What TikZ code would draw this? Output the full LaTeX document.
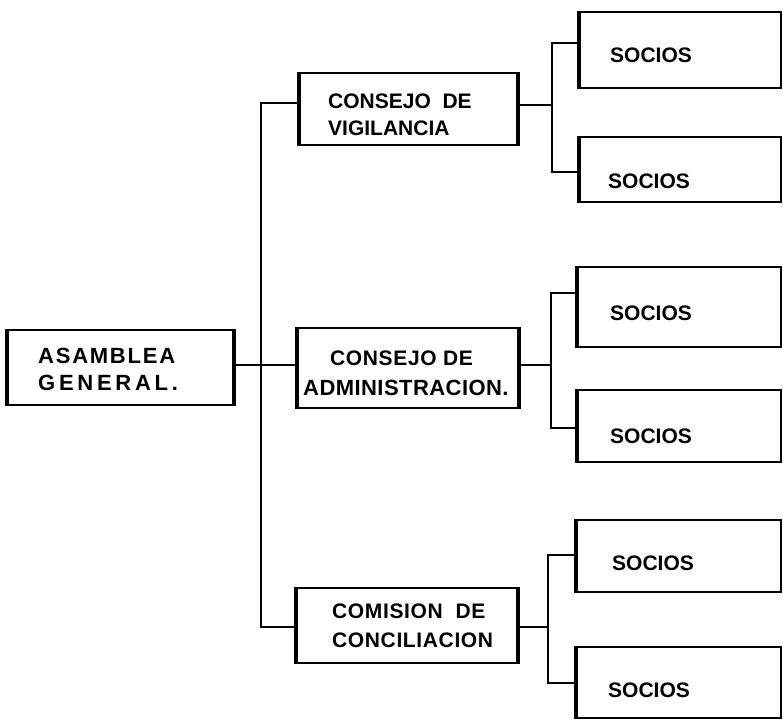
\documentclass[tikz,border=0pt]{standalone}
\usepackage{fontspec}
\setmainfont{Liberation Sans}
\begin{document}
\begin{tikzpicture}[x=1pt,y=-1pt,
  box/.style={draw, line width=1.9pt, rectangle, inner sep=0pt},
  side/.style={line width=3.2pt},
  conn/.style={line width=1.6pt},
  lab/.style={font=\bfseries\fontsize{21}{21}\selectfont, anchor=base west, inner sep=0pt},
  labsp/.style={font=\bfseries\fontsize{21}{21}\selectfont\addfontfeatures{LetterSpace=#1}, anchor=base west, inner sep=0pt},
  labbig/.style={font=\bfseries\fontsize{22}{22}\selectfont\addfontfeatures{LetterSpace=#1}, anchor=base west, inner sep=0pt},
]
\useasboundingbox (0,0) rectangle (783,721);
\fill[white] (0,0) rectangle (783,721);

% boxes
\node[box, minimum width=225pt, minimum height=75pt] (asam) at (120.5,367.5) {};
\node[box, minimum width=217pt, minimum height=72pt] (vig) at (408.5,109) {};
\node[box, minimum width=220pt, minimum height=80pt] (adm) at (408,368) {};
\node[box, minimum width=220pt, minimum height=75pt] (com) at (407,625.5) {};
\node[box, minimum width=201pt, minimum height=76pt] (s1) at (680.5,50) {};
\node[box, minimum width=201pt, minimum height=65pt] (s2) at (680.5,169.5) {};
\node[box, minimum width=203pt, minimum height=80pt] (s3) at (679.5,307) {};
\node[box, minimum width=203pt, minimum height=72pt] (s4) at (679.5,426) {};
\node[box, minimum width=204pt, minimum height=72pt] (s5) at (679,556) {};
\node[box, minimum width=204pt, minimum height=71pt] (s6) at (679,682.5) {};

% heavy sides
\foreach \b in {asam,vig,adm,com}{
  \draw[side] (\b.north west) -- (\b.south west);
  \draw[side] (\b.north east) -- (\b.south east);
}
\foreach \b in {s1,s2,s3,s4,s5,s6}{
  \draw[side] (\b.north west) -- (\b.south west);
}

% labels
\node[labbig=8] (ta1) at (38,363) {ASAMBLEA};
\node[labbig=17] (ta2) at (38,390) {GENERAL.};
\node[lab] (tv1) at (328,108) {CONSEJO\ \ DE};
\node[lab] (tv2) at (328,135) {VIGILANCIA};
\node[labsp=3] (tm1) at (330,365) {CONSEJO DE};
\node[labbig=2] (tm2) at (303,395) {ADMINISTRACION.};
\node[labsp=3] (tc1) at (332,618) {COMISION\ \ DE};
\node[labsp=3] (tc2) at (332,647) {CONCILIACION};
\node[lab] (ts1) at (610,62) {SOCIOS};
\node[lab] (ts2) at (608,188) {SOCIOS};
\node[lab] (ts3) at (610,320) {SOCIOS};
\node[lab] (ts4) at (610,443) {SOCIOS};
\node[lab] (ts5) at (612,570) {SOCIOS};
\node[lab] (ts6) at (608,697) {SOCIOS};

% connectors
\coordinate (j0) at (261,365);
\coordinate (mtop) at (261,103);
\coordinate (mbot) at (261,627);
\draw[conn] (asam.east |- j0) -- (adm.west |- j0);
\draw[conn] (vig.west |- mtop) -- (mtop) -- (mbot) -- (com.west |- mbot);

\coordinate (g1) at (552,105);
\coordinate (g1t) at (552,43);
\coordinate (g1b) at (552,172);
\draw[conn] (vig.east |- g1) -- (g1);
\draw[conn] (s1.west |- g1t) -- (g1t) -- (g1b) -- (s2.west |- g1b);

\coordinate (g2) at (551,365);
\coordinate (g2t) at (551,293);
\coordinate (g2b) at (551,428);
\draw[conn] (adm.east |- g2) -- (g2);
\draw[conn] (s3.west |- g2t) -- (g2t) -- (g2b) -- (s4.west |- g2b);

\coordinate (g3) at (548,627);
\coordinate (g3t) at (548,555);
\coordinate (g3b) at (548,683);
\draw[conn] (com.east |- g3) -- (g3);
\draw[conn] (s5.west |- g3t) -- (g3t) -- (g3b) -- (s6.west |- g3b);
\end{tikzpicture}
\end{document}
